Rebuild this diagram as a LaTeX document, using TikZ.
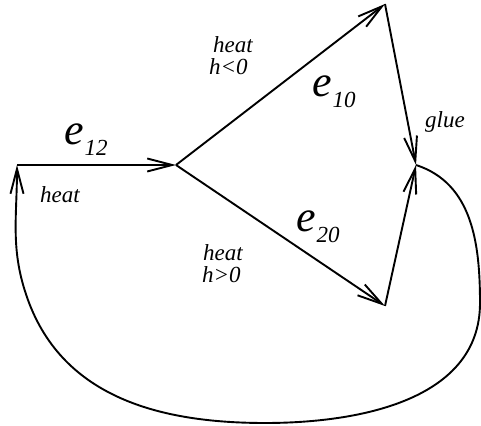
\documentclass[tikz,border=0pt]{standalone}
\usepackage{fontspec}
\setmainfont{Liberation Serif}
\usetikzlibrary{arrows.meta}
\newcommand{\elab}[2][-11pt]{{\fontsize{44}{44}\selectfont\itshape e}\kern1pt\raisebox{#1}{\fontsize{23}{23}\selectfont\itshape #2}}
\tikzset{
  edge/.style={line width=1.9pt, -{Straight Barb[length=25pt,width=13pt,line width=1.9pt]}},
  lab/.style={anchor=base west, inner sep=0pt, font=\fontsize{23}{23}\selectfont\itshape},
  elabel/.style={anchor=base west, inner sep=0pt}
}
\begin{document}
\begin{tikzpicture}[x=1pt,y=1pt]
\useasboundingbox (0,0) rectangle (481,425);
\coordinate (A) at (17,260);
\coordinate (B) at (176,260);
\coordinate (C) at (385,421);
\coordinate (G) at (416,260);
\coordinate (D) at (385,119);
\coordinate (R) at (480,122);
\coordinate (Bot) at (265,2);
\coordinate (L) at (28,125);

\draw[edge] (A) -- (B);
\draw[edge] (B) -- (C);
\draw[edge] (C) -- (G);
\draw[edge] (B) -- (D);
\draw[edge] (D) -- (G);
\draw[edge] (G) to[out=-18,in=90] (R) to[out=-90,in=0] (Bot) to[out=180,in=-70] (L) to[out=110,in=-90] (A);

\node[elabel] (e12) at (64,280) {\elab{12}};
\node[elabel] (e10) at (312,328) {\elab{10}};
\node[elabel] (e20) at (296,193) {\elab{20}};

\node[lab] (h1) at (40,222) {heat};
\node[lab] (h2) at (213,372) {heat};
\node[lab] (h3) at (209,350) {h<0};
\node[lab] (h4) at (203,164) {heat};
\node[lab] (h5) at (202,142) {h>0};
\node[lab] (gl) at (425,297) {glue};
\end{tikzpicture}
\end{document}
